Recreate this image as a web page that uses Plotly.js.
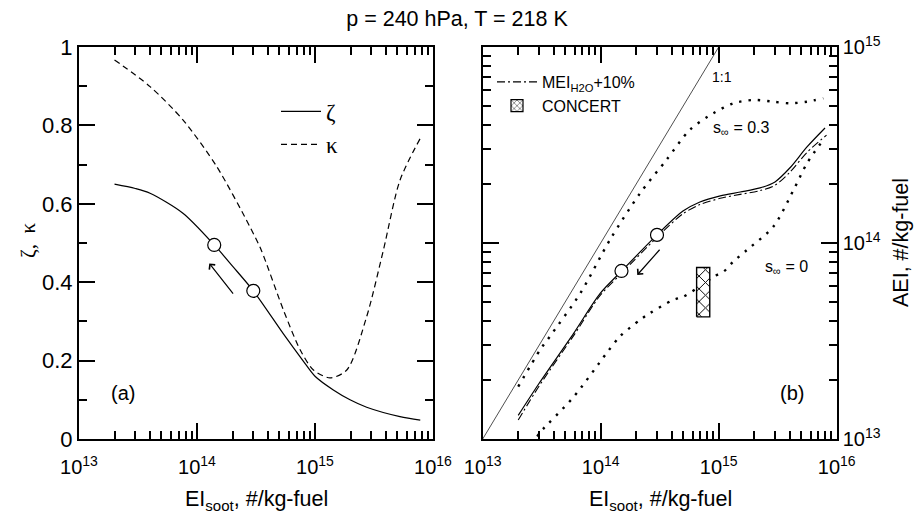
<!DOCTYPE html>
<html><head><meta charset="utf-8">
<script src="https://cdn.plot.ly/plotly-3.0.1.min.js"></script>
<style>html,body{margin:0;padding:0;background:#fff}#chart{width:914px;height:513px}</style>
</head><body><div id="chart"></div>
<script>
// ---- panel (a): zeta and kappa vs EI_soot ----
const zetaX = [2.0e13, 3.0e13, 4.0e13, 7.6e13, 1.4e14, 2.0e14, 3.0e14, 5.4e14, 7.9e14, 1.0e15, 1.43e15, 1.98e15, 2.74e15, 5.25e15, 7.8e15];
const zetaY = [0.650, 0.639, 0.627, 0.576, 0.495, 0.441, 0.378, 0.268, 0.200, 0.160, 0.125, 0.100, 0.081, 0.057, 0.048];
const kappaX = [2.0e13, 4.0e13, 7.6e13, 1.47e14, 2.8e14, 3.5e14, 5.4e14, 7.5e14, 9.7e14, 1.34e15, 1.86e15, 2.74e15, 3.8e15, 5.25e15, 7.8e15];
const kappaY = [0.967, 0.899, 0.814, 0.695, 0.542, 0.482, 0.329, 0.227, 0.176, 0.156, 0.176, 0.312, 0.482, 0.660, 0.767];
const zetaCircX = [1.4e14, 3.0e14];
const zetaCircY = [0.495, 0.378];

// ---- panel (b): AEI vs EI_soot ----
const aeiX = [2.0e13, 3.0e13, 5.9e13, 9.9e13, 1.5e14, 3.0e14, 4.98e14, 6.93e14, 1.03e15, 1.52e15, 2.24e15, 3.0e15, 4.02e15, 5.6e15, 7.96e15];
const aeiY = [1.32e13, 1.92e13, 3.46e13, 5.53e13, 7.18e13, 1.10e14, 1.455e14, 1.62e14, 1.74e14, 1.82e14, 1.91e14, 2.05e14, 2.42e14, 3.09e14, 3.86e14];
const meiX = [2.0e13, 3.0e13, 5.9e13, 9.9e13, 1.5e14, 3.0e14, 4.98e14, 6.93e14, 1.03e15, 1.52e15, 2.24e15, 3.0e15, 4.02e15, 5.6e15, 8.2e15];
const meiY = [1.25e13, 1.86e13, 3.37e13, 5.40e13, 7.00e13, 1.07e14, 1.41e14, 1.57e14, 1.69e14, 1.77e14, 1.85e14, 1.97e14, 2.30e14, 2.90e14, 3.55e14];
const s03X = [2.0e13, 3.1e13, 3.7e13, 6.7e13, 1.2e14, 2.15e14, 3.6e14, 5.7e14, 9.0e14, 1.33e15, 2.0e15, 2.9e15, 4.0e15, 5.6e15, 7.7e15];
const s03Y = [1.85e13, 2.88e13, 3.33e13, 5.53e13, 1.04e14, 1.79e14, 2.65e14, 3.78e14, 4.59e14, 5.16e14, 5.37e14, 5.26e14, 5.16e14, 5.26e14, 5.47e14];
const s0X = [2.9e13, 3.1e13, 5.9e13, 1.12e14, 1.45e14, 2.15e14, 2.6e14, 4.1e14, 5.0e14, 7.4e14, 9.0e14, 1.1e15, 1.33e15, 1.73e15, 2.9e15, 4.3e15, 5.6e15, 7.7e15];
const s0Y = [1.03e13, 1.09e13, 1.64e13, 2.74e13, 3.33e13, 4.05e13, 4.38e13, 5.12e13, 5.32e13, 6.17e13, 6.73e13, 7.14e13, 8.04e13, 9.20e13, 1.21e14, 1.86e14, 2.55e14, 3.36e14];
const oneX = [1e13, 1e15];
const oneY = [1e13, 1e15];
const aeiCircX = [1.5e14, 3.0e14];
const aeiCircY = [7.2e13, 1.10e14];
const concertX = [6.5e14, 8.4e14];
const concertY = [4.2e13, 7.5e13];

// ---- ticks ----
const xTickVals = [1e13, 1e14, 1e15, 1e16];
const xTickText = ['10<sup>13</sup>', '10<sup>14</sup>', '10<sup>15</sup>', '10<sup>16</sup>'];
const yTickVals = [0, 0.2, 0.4, 0.6, 0.8, 1];
const yTickText = ['0', '0.2', '0.4', '0.6', '0.8', '1'];
const yMinorVals = [0.1, 0.3, 0.5, 0.7, 0.9];
const y2TickVals = [1e13, 1e14, 1e15];
const y2TickText = ['10<sup>13</sup>', '10<sup>14</sup>', '10<sup>15</sup>'];
const minorDigits = [2, 3, 4, 5, 6, 7, 8, 9];
const xMinor = [];
[1e13, 1e14, 1e15].forEach(d => minorDigits.forEach(m => xMinor.push(d * m)));
const y2Minor = [];
[1e13, 1e14].forEach(d => minorDigits.forEach(m => y2Minor.push(d * m)));

const L = Math.log10;
const black = '#000';
const DOT = '2.4px,7px';
const SM = 0.8;

const traces = [
  {x: zetaX, y: zetaY, xaxis: 'x', yaxis: 'y', mode: 'lines', name: 'ζ', legend: 'legend',
   line: {color: black, width: 1.2, shape: 'spline', smoothing: SM}},
  {x: kappaX, y: kappaY, xaxis: 'x', yaxis: 'y', mode: 'lines', name: 'κ', legend: 'legend',
   line: {color: black, width: 1.2, dash: '6px,4px', shape: 'spline', smoothing: SM}},
  {x: zetaCircX, y: zetaCircY, xaxis: 'x', yaxis: 'y', mode: 'markers', showlegend: false,
   marker: {size: 13, color: '#fff', line: {color: black, width: 1.2}}},

  {x: oneX, y: oneY, xaxis: 'x2', yaxis: 'y2', mode: 'lines', showlegend: false,
   line: {color: '#222', width: 0.8}},
  {x: s03X, y: s03Y, xaxis: 'x2', yaxis: 'y2', mode: 'lines', showlegend: false,
   line: {color: black, width: 2.4, dash: DOT, shape: 'spline', smoothing: SM}},
  {x: s0X, y: s0Y, xaxis: 'x2', yaxis: 'y2', mode: 'lines', showlegend: false,
   line: {color: black, width: 2.4, dash: DOT, shape: 'spline', smoothing: SM}},
  {x: meiX, y: meiY, xaxis: 'x2', yaxis: 'y2', mode: 'lines', name: 'MEI<sub>H2O</sub>+10%', legend: 'legend2',
   line: {color: black, width: 1.1, dash: '8px,3px,2px,3px', shape: 'spline', smoothing: SM}},
  {x: aeiX, y: aeiY, xaxis: 'x2', yaxis: 'y2', mode: 'lines', showlegend: false,
   line: {color: black, width: 1.2, shape: 'spline', smoothing: SM}},
  {x: aeiCircX, y: aeiCircY, xaxis: 'x2', yaxis: 'y2', mode: 'markers', showlegend: false,
   marker: {size: 13, color: '#fff', line: {color: black, width: 1.2}}},
  {x: [concertX[0], concertX[1], concertX[1], concertX[0], concertX[0]],
   y: [concertY[0], concertY[0], concertY[1], concertY[1], concertY[0]],
   xaxis: 'x2', yaxis: 'y2', mode: 'lines', fill: 'toself', showlegend: false,
   fillcolor: '#fff', fillpattern: {shape: 'x', fgcolor: black, bgcolor: '#fff', size: 9, solidity: 0.2},
   line: {color: black, width: 1.4}},
  {type: 'bar', x: [null], y: [null], xaxis: 'x2', yaxis: 'y2', name: 'CONCERT', legend: 'legend2',
   marker: {color: '#fff', line: {color: black, width: 1.2}, pattern: {shape: 'x', fgcolor: black, bgcolor: '#fff', size: 5, solidity: 0.2}}}
];

const tickCommon = {ticks: 'inside', ticklen: 16, tickwidth: 2, tickcolor: black, showline: true, linewidth: 2,
  linecolor: black, mirror: 'ticks', showgrid: false, zeroline: false, tickfont: {size: 20, color: black}};
const minorCommon = {ticks: 'inside', ticklen: 8, tickwidth: 2, tickcolor: black, showgrid: false};

const layout = {
  width: 914, height: 513, margin: {l: 0, r: 0, t: 0, b: 0},
  paper_bgcolor: '#fff', plot_bgcolor: '#fff',
  font: {family: 'Liberation Sans, Arial, sans-serif', size: 19, color: black},
  title: {text: 'p = 240 hPa, T = 218 K', x: 0.5, xanchor: 'center', y: 1 - 18 / 513, yanchor: 'middle',
          font: {size: 21.5, color: black}},
  showlegend: true,
  legend: {x: 276 / 914, y: 1 - 90 / 513, xanchor: 'left', yanchor: 'top', bgcolor: 'rgba(0,0,0,0)',
           borderwidth: 0, itemwidth: 40, font: {family: 'Liberation Serif, Times New Roman, serif', size: 23}},
  legend2: {x: 492 / 914, y: 1 - 65 / 513, xanchor: 'left', yanchor: 'top', bgcolor: 'rgba(0,0,0,0)',
            borderwidth: 0, itemwidth: 40, font: {size: 16}},
  xaxis: Object.assign({}, tickCommon, {type: 'log', domain: [79 / 914, 433 / 914], range: [13, 16], anchor: 'y',
    tickmode: 'array', tickvals: xTickVals, ticktext: xTickText, ticklabelstandoff: 9,
    minor: Object.assign({}, minorCommon, {tickmode: 'array', tickvals: xMinor})}),
  yaxis: Object.assign({}, tickCommon, {domain: [74 / 513, 466 / 513], range: [0, 1], anchor: 'x',
    tickmode: 'array', tickvals: yTickVals, ticktext: yTickText, tickfont: {size: 22, color: black},
    minor: Object.assign({}, minorCommon, {tickmode: 'array', tickvals: yMinorVals})}),
  xaxis2: Object.assign({}, tickCommon, {type: 'log', domain: [482.7 / 914, 836.7 / 914], range: [13, 16], anchor: 'y2',
    tickmode: 'array', tickvals: xTickVals, ticktext: xTickText, ticklabelstandoff: 9,
    minor: Object.assign({}, minorCommon, {tickmode: 'array', tickvals: xMinor})}),
  yaxis2: Object.assign({}, tickCommon, {type: 'log', domain: [74 / 513, 466 / 513], range: [13, 15], anchor: 'x2', side: 'right',
    tickmode: 'array', tickvals: y2TickVals, ticktext: y2TickText,
    minor: Object.assign({}, minorCommon, {tickmode: 'array', tickvals: y2Minor})}),
  annotations: [
    {xref: 'paper', yref: 'paper', x: 256 / 914, y: 1 - 500 / 513, xanchor: 'center', yanchor: 'middle', showarrow: false,
     text: 'EI<sub>soot</sub>, #/kg-fuel', font: {size: 21.5}},
    {xref: 'paper', yref: 'paper', x: 660 / 914, y: 1 - 500 / 513, xanchor: 'center', yanchor: 'middle', showarrow: false,
     text: 'EI<sub>soot</sub>, #/kg-fuel', font: {size: 21.5}},
    {xref: 'paper', yref: 'paper', x: 28 / 914, y: 1 - 241 / 513, xanchor: 'center', yanchor: 'middle', showarrow: false,
     textangle: -90, text: 'ζ,  κ', font: {family: 'Liberation Serif, Times New Roman, serif', size: 21}},
    {xref: 'paper', yref: 'paper', x: 901 / 914, y: 1 - 243 / 513, xanchor: 'center', yanchor: 'middle', showarrow: false,
     textangle: -90, text: 'AEI, #/kg-fuel', font: {size: 21.5}},
    {xref: 'x', yref: 'y', x: 13.373, y: 0.117, showarrow: false, text: '(a)', font: {size: 20}},
    {xref: 'x2', yref: 'y2', x: 15.618, y: 13.233, showarrow: false, text: '(b)', font: {size: 20}},
    {xref: 'x2', yref: 'y2', x: 14.93, y: 14.848, xanchor: 'left', showarrow: false, text: '1:1', font: {size: 14}},
    {xref: 'x2', yref: 'y2', x: 14.935, y: 14.585, xanchor: 'left', showarrow: false, text: 's<sub>∞</sub> = 0.3', font: {size: 16}},
    {xref: 'x2', yref: 'y2', x: 15.376, y: 13.875, xanchor: 'left', showarrow: false, text: 's<sub>∞</sub> = 0', font: {size: 16}},
    {xref: 'x', yref: 'y', axref: 'x', ayref: 'y', x: L(1.27e14), y: 0.448, ax: L(2.07e14), ay: 0.367,
     text: '', showarrow: true, arrowhead: 4, arrowsize: 1.2, arrowwidth: 1.2, arrowcolor: black},
    {xref: 'x2', yref: 'y2', axref: 'x2', ayref: 'y2', x: L(2.04e14), y: L(6.87e13), ax: L(3.24e14), ay: L(9.4e13),
     text: '', showarrow: true, arrowhead: 4, arrowsize: 1.2, arrowwidth: 1.2, arrowcolor: black}
  ]
};

Plotly.newPlot('chart', traces, layout, {displayModeBar: false, staticPlot: true});
</script>
</body></html>
